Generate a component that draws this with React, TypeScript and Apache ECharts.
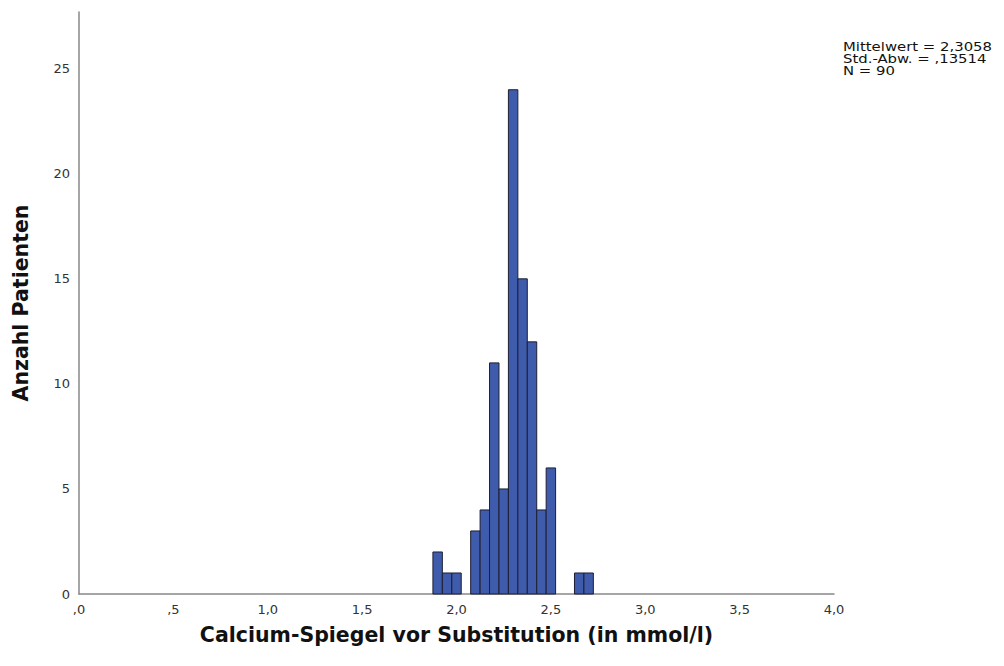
import React, { useEffect, useRef } from "react";
import * as echarts from "echarts";

const binCenters = [1.9, 1.95, 2.0, 2.05, 2.1, 2.15, 2.2, 2.25, 2.3, 2.35, 2.4, 2.45, 2.5, 2.55, 2.6, 2.65, 2.7];
const counts = [2, 1, 1, 0, 3, 4, 11, 5, 24, 15, 12, 4, 6, 0, 0, 1, 1];
const binWidth = 0.05;
const statsLines = ["Mittelwert = 2,3058", "Std.-Abw. = ,13514", "N = 90"];
const xTitle = "Calcium-Spiegel vor Substitution (in mmol/l)";
const yTitle = "Anzahl Patienten";

const fmtX = (v: number) => {
  const s = v.toFixed(1).replace(".", ",");
  return s.startsWith("0,") ? s.slice(1) : s;
};

export default function App() {
  const ref = useRef<HTMLDivElement>(null);
  useEffect(() => {
    if (!ref.current) return;
    const chart = echarts.init(ref.current, undefined, { renderer: "svg" });
    const font = "DejaVu Sans";
    chart.setOption({
      animation: false,
      backgroundColor: "#ffffff",
      textStyle: { fontFamily: font },
      grid: { left: 79, right: 170, top: 12, bottom: 72, containLabel: false },
      xAxis: {
        type: "value",
        min: 0,
        max: 4,
        interval: 0.5,
        axisLine: { show: true, lineStyle: { color: "#888888", width: 1.5 } },
        axisTick: { show: false },
        splitLine: { show: false },
        axisLabel: { color: "#333333", fontSize: 13, margin: 9, formatter: (v: number) => fmtX(v), fontFamily: font },
        name: xTitle,
        nameLocation: "middle",
        nameGap: 30,
        nameTextStyle: { fontSize: 20.5, fontWeight: "bold", color: "#111111", fontFamily: font },
      },
      yAxis: {
        type: "value",
        min: 0,
        max: 27.7,
        interval: 5,
        axisLine: { show: true, lineStyle: { color: "#888888", width: 1.5 } },
        axisTick: { show: false },
        splitLine: { show: false },
        axisLabel: {
          color: "#333333",
          fontSize: 13,
          margin: 9,
          fontFamily: font,
          formatter: (v: number) => (Math.abs(v % 5) < 1e-6 ? String(v) : ""),
        },
        name: yTitle,
        nameLocation: "middle",
        nameGap: 48,
        nameRotate: 90,
        nameTextStyle: { fontSize: 20.5, fontWeight: "bold", color: "#111111", fontFamily: font },
      },
      graphic: statsLines.map((line, i) => ({
        type: "text",
        x: 843,
        y: 41 + i * 12,
        scaleX: 1.24,
        style: {
          text: line,
          fontSize: 12,
          fill: "#111111",
          fontFamily: font,
        },
      })),
      series: [
        {
          type: "custom",
          data: binCenters.map((c, i) => [c - binWidth / 2, c + binWidth / 2, counts[i]]),
          encode: { x: [0, 1], y: 2 },
          renderItem: (params: any, api: any) => {
            const h = api.value(2);
            if (!h) return null;
            const p0 = api.coord([api.value(0), h]);
            const p1 = api.coord([api.value(1), 0]);
            return {
              type: "rect",
              shape: { x: p0[0], y: p0[1], width: p1[0] - p0[0], height: p1[1] - p0[1] },
              style: { fill: "#3f5bab", stroke: "#1d1f33", lineWidth: 1 },
            };
          },
        },
      ],
    });
    return () => chart.dispose();
  }, []);
  return <div ref={ref} style={{ width: 1004, height: 666, position: "absolute", left: 0, top: 0 }} />;
}
